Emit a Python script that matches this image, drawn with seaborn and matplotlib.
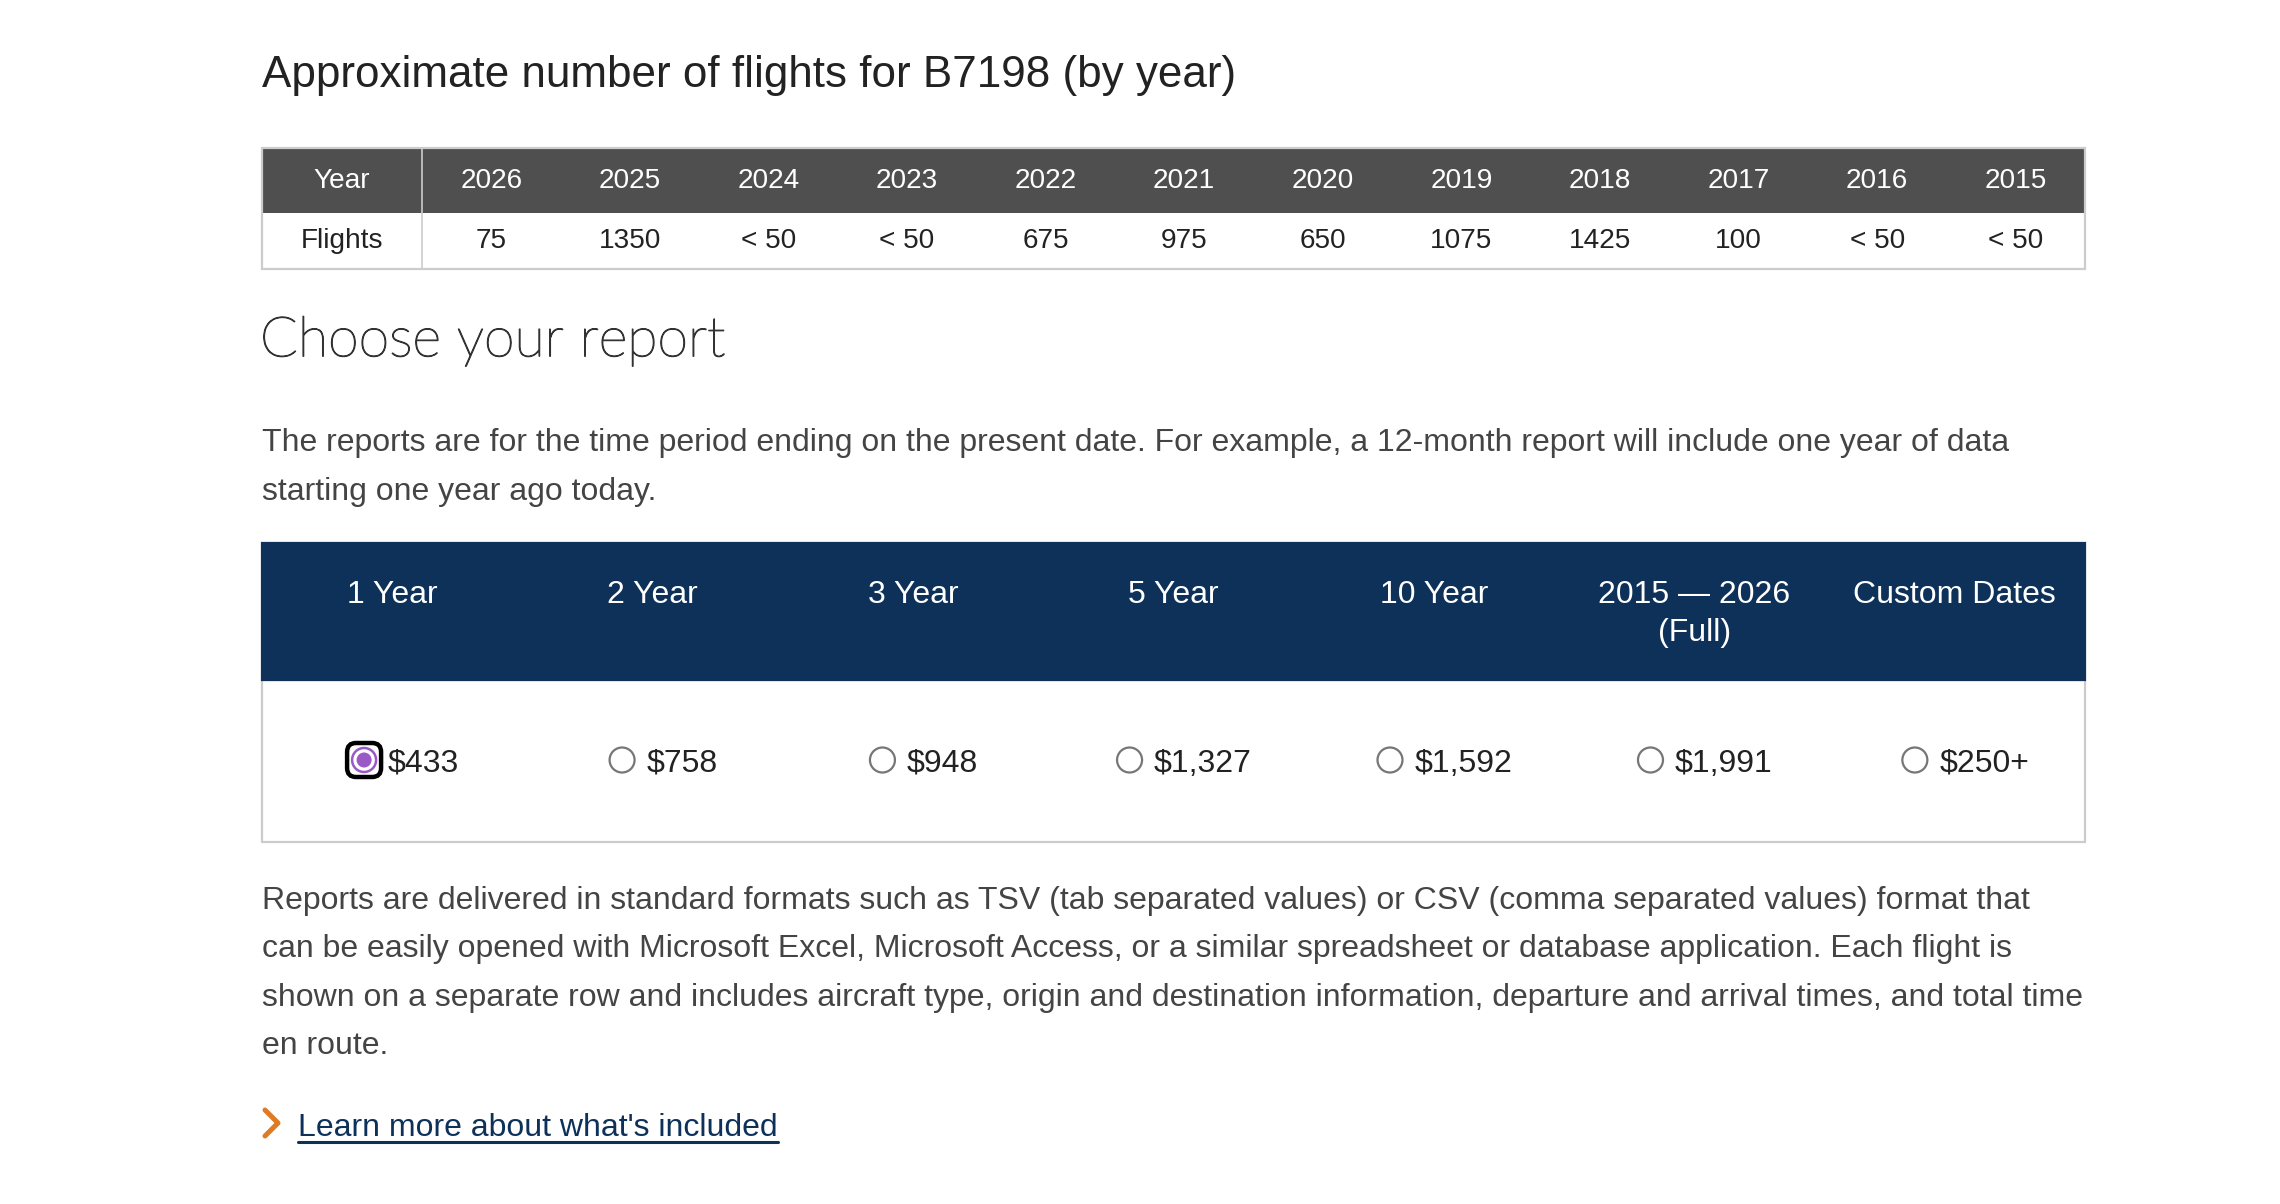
import matplotlib
matplotlib.use("Agg")
import matplotlib.pyplot as plt
import matplotlib.patheffects as pe
import seaborn as sns
from matplotlib.patches import Rectangle, Circle, FancyBboxPatch

# ---- data ----
years = ["2026", "2025", "2024", "2023", "2022", "2021", "2020",
         "2019", "2018", "2017", "2016", "2015"]
flights = ["75", "1350", "< 50", "< 50", "675", "975", "650",
           "1075", "1425", "100", "< 50", "< 50"]
report_periods = ["1 Year", "2 Year", "3 Year", "5 Year", "10 Year",
                  "2015 \u2014 2026\n(Full)", "Custom Dates"]
report_prices = ["$433", "$758", "$948", "$1,327", "$1,592", "$1,991", "$250+"]
selected_report = 0

title = "Approximate number of flights for B7198 (by year)"
intro = ["The reports are for the time period ending on the present date. "
         "For example, a 12-month report will include one year of data",
         "starting one year ago today."]
formats = ["Reports are delivered in standard formats such as TSV (tab separated values) "
           "or CSV (comma separated values) format that",
           "can be easily opened with Microsoft Excel, Microsoft Access, or a similar "
           "spreadsheet or database application. Each flight is",
           "shown on a separate row and includes aircraft type, origin and destination "
           "information, departure and arrival times, and total time",
           "en route."]
link_text = "Learn more about what's included"

sns.set_theme(style="white")
plt.rcParams["font.family"] = ["Liberation Sans", "DejaVu Sans"]

W, H = 2280, 1204
fig = plt.figure(figsize=(W / 100, H / 100), dpi=100)
ax = fig.add_axes([0, 0, 1, 1])
ax.set_xlim(0, W)
ax.set_ylim(H, 0)
ax.axis("off")

PT = 0.72  # px -> pt at 100 dpi
BODY = 32 * PT
TXT = "#444444"
GRID = "#cccccc"
NAVY = "#0d3159"

left, right = 262, 2085

# title
ax.text(left, 76, title, fontsize=44 * PT, color="#222222", va="center", ha="left")

# ---- flights per year table ----
t_top, t_mid, t_bot = 148, 213, 269
year_col = 422
ax.add_patch(Rectangle((left, t_top), right - left, t_mid - t_top,
                       facecolor="#4f4f4f", edgecolor="none"))
ax.add_patch(Rectangle((left, t_top), right - left, t_bot - t_top,
                       facecolor="none", edgecolor=GRID, lw=1.6))
ax.plot([year_col, year_col], [t_top, t_bot], color=GRID, lw=1.2)
ax.text((left + year_col) / 2, (t_top + t_mid) / 2, "Year", color="white",
        fontsize=28 * PT, ha="center", va="center")
ax.text((left + year_col) / 2, (t_mid + t_bot) / 2, "Flights", color="#222222",
        fontsize=28 * PT, ha="center", va="center")
cw = (right - year_col) / len(years)
for i, (yr, fl) in enumerate(zip(years, flights)):
    cx = year_col + cw * (i + 0.5)
    ax.text(cx, (t_top + t_mid) / 2, yr, color="white", fontsize=28 * PT,
            ha="center", va="center")
    ax.text(cx, (t_mid + t_bot) / 2, fl, color="#222222", fontsize=28 * PT,
            ha="center", va="center")

# ---- choose your report ----
ax.text(left - 2, 341, "Choose your report", family=["Lato", "DejaVu Sans"],
        fontweight="light", fontsize=55.5 * PT, color="#333333", va="center",
        path_effects=[pe.withStroke(linewidth=0.9, foreground="#333333")])
for k, line in enumerate(intro):
    ax.text(left, 443 + 49 * k, line, fontsize=BODY, color=TXT, va="center")

b_top, b_mid, b_bot = 543, 680, 842
ax.add_patch(Rectangle((left, b_mid), right - left, b_bot - b_mid,
                       facecolor="white", edgecolor=GRID, lw=1.6))
ax.add_patch(Rectangle((left, b_top), right - left, b_mid - b_top,
                       facecolor=NAVY, edgecolor=NAVY, lw=1.6))

renderer = fig.canvas.get_renderer()
pw = (right - left) / len(report_periods)
row_y = 764
for i, (per, price) in enumerate(zip(report_periods, report_prices)):
    cx = left + pw * (i + 0.5)
    for j, part in enumerate(per.split("\n")):
        ax.text(cx, 595 + 38 * j, part, color="white", fontsize=BODY,
                ha="center", va="center")
    t = ax.text(0, row_y, price, fontsize=BODY, color="#222222", va="center")
    tw = t.get_window_extent(renderer).width
    if i == selected_report:
        r, gap = 17, 7
    else:
        r, gap = 12.5, 12
    x0 = cx + 11 - (2 * r + gap + tw) / 2
    rc = x0 + r
    ry = row_y - 4
    t.set_x(x0 + 2 * r + gap)
    if i == selected_report:
        ax.add_patch(FancyBboxPatch((rc - r, ry - r), 2 * r, 2 * r,
                                    boxstyle="round,pad=0,rounding_size=9",
                                    facecolor="white", edgecolor="black", lw=3.2))
        ax.add_patch(Circle((rc, ry), 12, facecolor="white",
                            edgecolor="#9b59c8", lw=1.8))
        ax.add_patch(Circle((rc, ry), 7.5, facecolor="#9b59c8",
                            edgecolor="none"))
    else:
        ax.add_patch(Circle((rc, ry), r, facecolor="white",
                            edgecolor="#767676", lw=1.6))

for k, line in enumerate(formats):
    ax.text(left, 901 + 48.3 * k, line, fontsize=BODY, color=TXT, va="center")

# link with chevron
ax.plot([265, 278, 265], [1110, 1123, 1136], color="#e07b24", lw=3.6,
        solid_capstyle="round", solid_joinstyle="round")
lt = ax.text(298, 1128, link_text, fontsize=BODY, color=NAVY, va="center")
lw_ = lt.get_window_extent(renderer).width
ax.plot([298, 298 + lw_], [1142, 1142], color=NAVY, lw=2.2)

fig.savefig("out.png", dpi=100, facecolor="white")
